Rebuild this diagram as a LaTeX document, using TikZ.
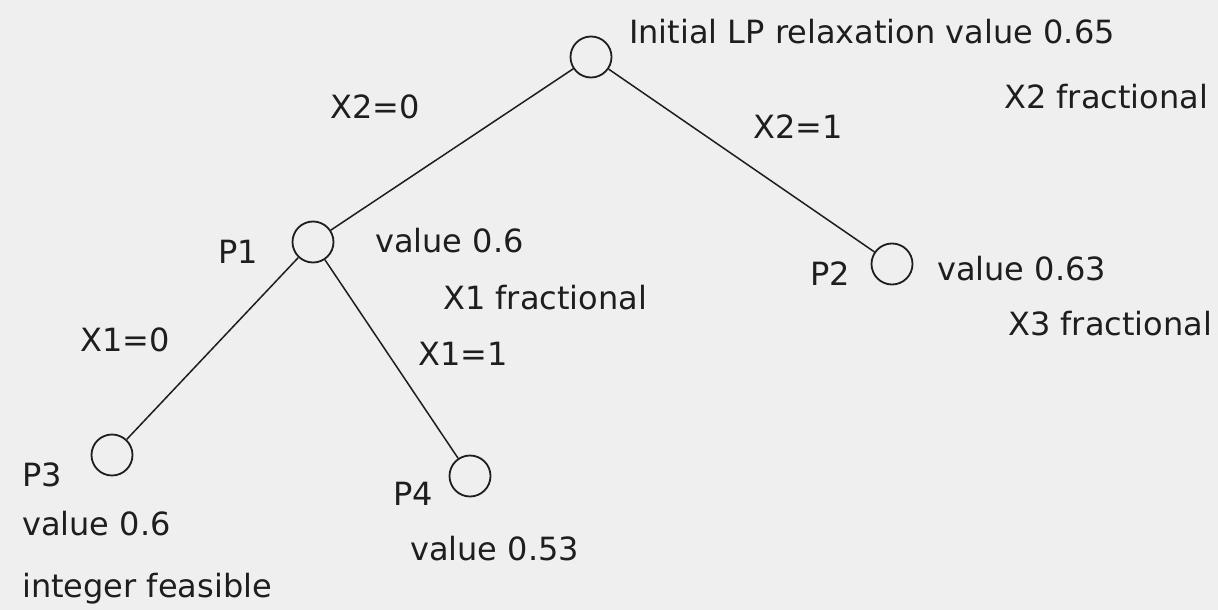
\documentclass[tikz,border=0pt]{standalone}
\usepackage{fontspec}
\setmainfont{DejaVu Sans}
\definecolor{ink}{HTML}{1E1E1E}
\definecolor{paper}{HTML}{EFEFEF}
\begin{document}
\begin{tikzpicture}[x=1pt,y=-1pt,
  bb/.style={circle,draw=ink,line width=1.8pt,minimum size=41pt,inner sep=0pt},
  lbl/.style={anchor=base west,inner sep=0pt,text=ink,font=\fontsize{32}{36}\selectfont},
  edge/.style={draw=ink,line width=1.5pt}]
\fill[paper] (0,0) rectangle (1218,610);
\useasboundingbox (0,0) rectangle (1218,610);
% nodes
\node[bb] (root) at (591,57) {};
\node[bb] (p1) at (313,242) {};
\node[bb] (p2) at (892,264) {};
\node[bb] (p3) at (112,455) {};
\node[bb] (p4) at (470,476) {};
% edges
\draw[edge] (root) -- (p1);
\draw[edge] (root) -- (p2);
\draw[edge] (p1) -- (p3);
\draw[edge] (p1) -- (p4);
% labels
\node[lbl] (t0) at (629,44) {Initial LP relaxation value 0.65};
\node[lbl] (t1) at (1004,108) {X2 fractional};
\node[lbl] (e1) at (330,118) {X2=0};
\node[lbl] (e2) at (753,138) {X2=1};
\node[lbl] (n1) at (218,263) {P1};
\node[lbl] (v1) at (375,252) {value 0.6};
\node[lbl] (f1) at (443,309) {X1 fractional};
\node[lbl] (n2) at (810,285) {P2};
\node[lbl] (v2) at (937,280) {value 0.63};
\node[lbl] (f2) at (1008,335) {X3 fractional};
\node[lbl] (e3) at (80,351) {X1=0};
\node[lbl] (e4) at (418,365) {X1=1};
\node[lbl] (n3) at (22,486) {P3};
\node[lbl] (v3) at (22,535) {value 0.6};
\node[lbl] (i3) at (22,597) {integer feasible};
\node[lbl] (n4) at (393,505) {P4};
\node[lbl] (v4) at (410,560) {value 0.53};
\end{tikzpicture}
\end{document}
